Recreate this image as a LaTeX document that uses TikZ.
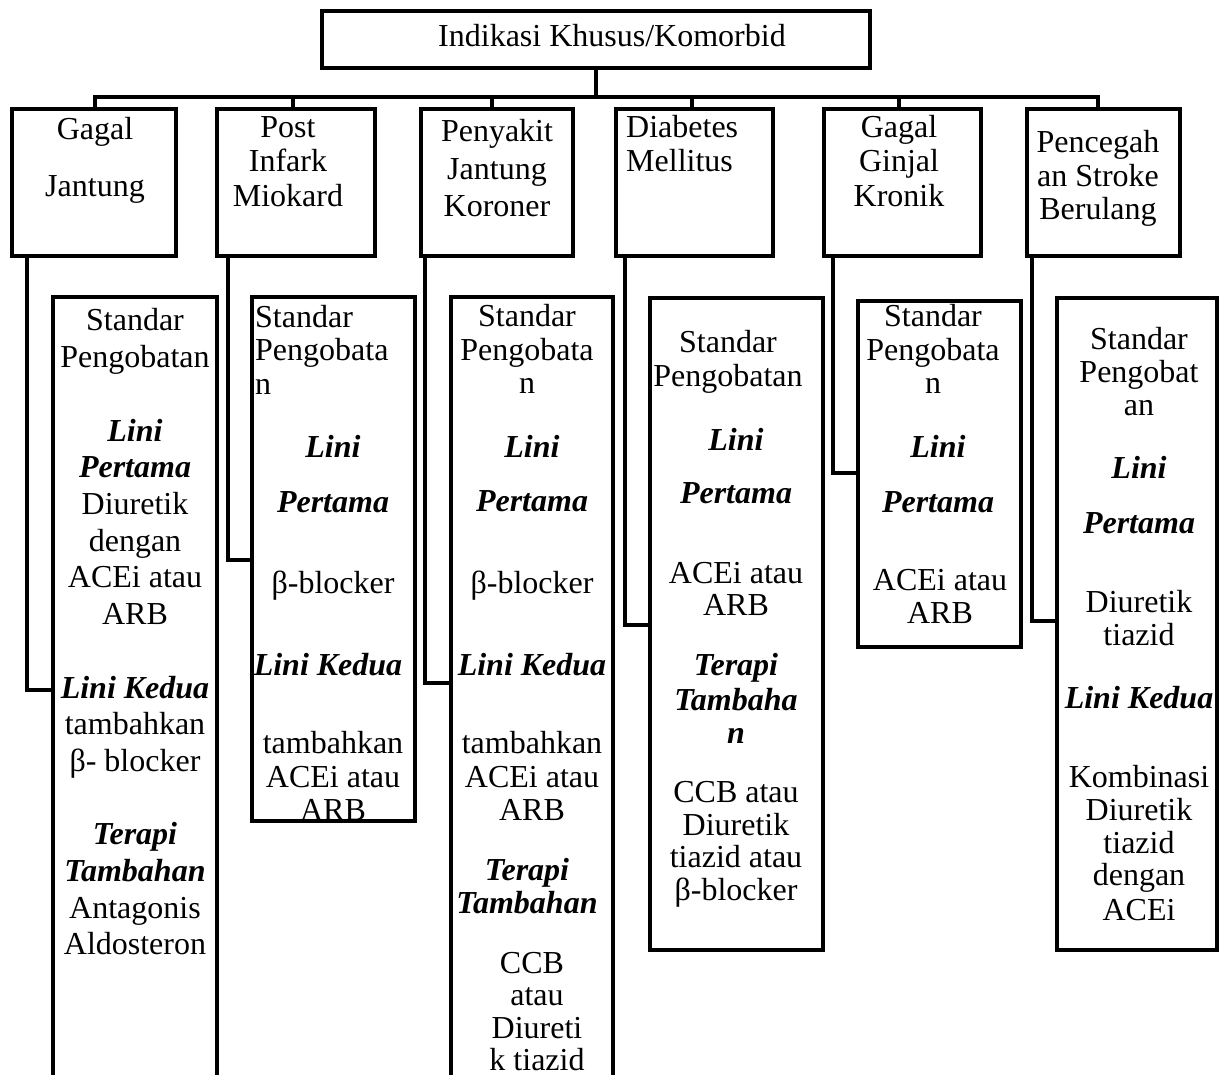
\documentclass[tikz,border=0pt]{standalone}
\usepackage{fontspec}
\setmainfont{Liberation Serif}
\begin{document}
\begin{tikzpicture}[x=1pt,y=-1pt,line join=miter,
  box/.style={draw,line width=4.5pt,inner sep=0pt,outer sep=0pt},
  conn/.style={line width=4.5pt},
  txt/.style={anchor=base,inner sep=0pt,font=\fontsize{32}{33}\selectfont},
  txtl/.style={txt,anchor=base west}]
\useasboundingbox (0,0) rectangle (1224,1075);
\fill[white] (0,0) rectangle (1224,1075);
\clip (0,0) rectangle (1224,1075);
% top box
\node[box,minimum width=548pt,minimum height=57pt] (T) at (596,39.5) {};
\node[txt] (Ttxt) at (612,47) {Indikasi Khusus/Komorbid};
% child boxes
\node[box,minimum width=164pt,minimum height=147pt] (c1) at (94,182.5) {};
\node[box,minimum width=158pt,minimum height=147pt] (c2) at (296,182.5) {};
\node[box,minimum width=152pt,minimum height=147pt] (c3) at (497,182.5) {};
\node[box,minimum width=157pt,minimum height=147pt] (c4) at (694.5,182.5) {};
\node[box,minimum width=157pt,minimum height=147pt] (c5) at (902.5,182.5) {};
\node[box,minimum width=153pt,minimum height=147pt] (c6) at (1103.5,182.5) {};
% lower boxes
\node[box,minimum width=164pt,minimum height=803pt] (A) at (135,698.5) {};
\node[box,minimum width=163pt,minimum height=524pt] (B) at (333.5,559) {};
\node[box,minimum width=162pt,minimum height=803pt] (C) at (532,698.5) {};
\node[box,minimum width=173pt,minimum height=652pt] (D) at (736.5,624) {};
\node[box,minimum width=163pt,minimum height=346pt] (E) at (939.5,474) {};
\node[box,minimum width=160pt,minimum height=652pt] (F) at (1137,624) {};
% tree connectors
\coordinate (bar) at (597,97);
\draw[conn] (T.south) -- (T.south |- bar);
\draw[conn] ([xshift=1pt]c1.north) |- (bar) -| ([xshift=-5.5pt]c6.north);
\draw[conn] ([xshift=-3pt]c2.north) -- ++(0,-12);
\draw[conn] ([xshift=-5pt]c3.north) -- ++(0,-12);
\draw[conn] ([xshift=-2.5pt]c4.north) -- ++(0,-12);
\draw[conn] ([xshift=-3.5pt]c5.north) -- ++(0,-12);
% elbow connectors
\draw[conn] ([xshift=15pt]c1.south west) |- ([yshift=-393pt]A.north west);
\draw[conn] ([xshift=11pt]c2.south west) |- ([yshift=-263pt]B.north west);
\draw[conn] ([xshift=4pt]c3.south west) |- ([yshift=-386pt]C.north west);
\draw[conn] ([xshift=9pt]c4.south west) |- ([yshift=-327pt]D.north west);
\draw[conn] ([xshift=9pt]c5.south west) |- ([yshift=-172pt]E.north west);
\draw[conn] ([xshift=5pt]c6.south west) |- ([yshift=-323pt]F.north west);
% child texts
\node[txt] (c1a) at (95,140) {Gagal};
\node[txt] (c1b) at (95,197) {Jantung};
\node[txt] (c2a) at (288,138) {Post};
\node[txt] (c2b) at (288,172) {Infark};
\node[txt] (c2c) at (288,207) {Miokard};
\node[txt] (c3a) at (497,142) {Penyakit};
\node[txt] (c3b) at (497,180) {Jantung};
\node[txt] (c3c) at (497,217) {Koroner};
\node[txtl] (c4a) at (626,138) {Diabetes};
\node[txtl] (c4b) at (626,172) {Mellitus};
\node[txt] (c5a) at (899,138) {Gagal};
\node[txt] (c5b) at (899,172) {Ginjal};
\node[txt] (c5c) at (899,207) {Kronik};
\node[txt] (c6a) at (1098,153) {Pencegah};
\node[txt] (c6b) at (1098,187) {an Stroke};
\node[txt] (c6c) at (1098,220) {Berulang};
% box A
\foreach \t/\y [count=\i] in {Standar/331, Pengobatan/367.7, {\bfseries\itshape Lini}/441.1,
  {\bfseries\itshape Pertama}/477.8, Diuretik/514.5, dengan/551.2, ACEi atau/587.9, ARB/624.6,
  {\bfseries\itshape Lini Kedua}/698, tambahkan/734.7, β- blocker/771.4,
  {\bfseries\itshape Terapi}/844.8, {\bfseries\itshape Tambahan}/881.5, Antagonis/918.2, Aldosteron/954.9}
  \node[txt] (tA\i) at (135,\y) {\t};
% box B
\foreach \t/\y [count=\i] in {Standar/328, Pengobata/361, n/394}
  \node[txtl] (tBl\i) at (255,\y) {\t};
\foreach \x/\t/\y [count=\i] in {333/{\bfseries\itshape Lini}/457, 333/{\bfseries\itshape Pertama}/512,
  333/β-blocker/593, 328/{\bfseries\itshape Lini Kedua}/675, 333/tambahkan/753, 333/ACEi atau/787, 333/ARB/820}
  \node[txt] (tB\i) at (\x,\y) {\t};
% box C
\foreach \x/\t/\y [count=\i] in {527/Standar/327, 527/Pengobata/360, 527/n/393,
  532/{\bfseries\itshape Lini}/457, 532/{\bfseries\itshape Pertama}/511, 532/β-blocker/593,
  532/{\bfseries\itshape Lini Kedua}/675, 532/tambahkan/753, 532/ACEi atau/787, 532/ARB/820,
  527/{\bfseries\itshape Terapi}/880, 527/{\bfseries\itshape Tambahan}/913, 532/CCB/973,
  537/atau/1005, 537/Diureti/1038, 537/k tiazid/1070}
  \node[txt] (tC\i) at (\x,\y) {\t};
% box D
\foreach \x/\t/\y [count=\i] in {728/Standar/353, 728/Pengobatan/386,
  736/{\bfseries\itshape Lini}/450, 736/{\bfseries\itshape Pertama}/503, 736/ACEi atau/583, 736/ARB/615,
  736/{\bfseries\itshape Terapi}/675, 736/{\bfseries\itshape Tambaha}/710, 736/{\bfseries\itshape n}/743,
  736/CCB atau/802, 736/Diuretik/835, 736/tiazid atau/867, 736/β-blocker/900}
  \node[txt] (tD\i) at (\x,\y) {\t};
% box E
\foreach \x/\t/\y [count=\i] in {933/Standar/327, 933/Pengobata/360, 933/n/393,
  938/{\bfseries\itshape Lini}/457, 938/{\bfseries\itshape Pertama}/512, 940/ACEi atau/590, 940/ARB/623}
  \node[txt] (tE\i) at (\x,\y) {\t};
% box F
\foreach \t/\y [count=\i] in {Standar/350, Pengobat/382, an/415, {\bfseries\itshape Lini}/478,
  {\bfseries\itshape Pertama}/533, Diuretik/612, tiazid/645, {\bfseries\itshape Lini Kedua}/708,
  Kombinasi/787, Diuretik/820, tiazid/853, dengan/885, ACEi/920}
  \node[txt] (tF\i) at (1139,\y) {\t};
\end{tikzpicture}
\end{document}
